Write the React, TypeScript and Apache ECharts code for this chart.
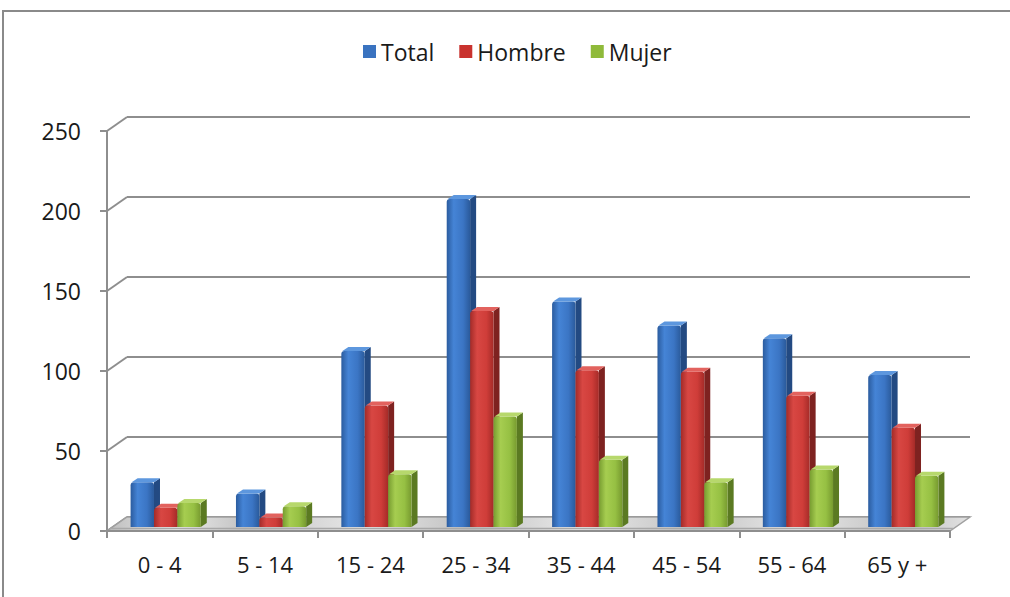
import React, { useEffect, useRef } from "react";
import * as echarts from "echarts";

const categories = ["0 - 4", "5 - 14", "15 - 24", "25 - 34", "35 - 44", "45 - 54", "55 - 64", "65 y +"];
const totalValues = [28, 21, 110, 205, 141, 126, 118, 95];
const hombreValues = [12, 6, 76, 135, 98, 97, 82, 62];
const mujerValues = [15, 13, 33, 69, 42, 28, 36, 32];
const yTicks = [0, 50, 100, 150, 200, 250];
const seriesNames = ["Total", "Hombre", "Mujer"];

const WALL_DX = 20;
const WALL_DY = -14;
const BAR_DX = 6;
const BAR_DY = -4;
const FONT = "Open Sans";
const TEXT = "#1a1a1a";
const LINE = "#8e8e8e";

const palettes = [
  { legend: "#3a73c0", front: ["#2b5c9f", "#4584d6", "#3b75c4", "#2a5a9b"], side: "#234a82", top: "#5d97de" },
  { legend: "#c9322e", front: ["#a32b28", "#d84743", "#cf3d39", "#a52b28"], side: "#7e2220", top: "#e2625e" },
  { legend: "#8fba3a", front: ["#779c30", "#a6cd50", "#96c043", "#779a2f"], side: "#5b7a22", top: "#b7d86c" },
];

export default function App() {
  const ref = useRef<HTMLDivElement>(null);
  useEffect(() => {
    if (!ref.current) return;
    const chart = echarts.init(ref.current, undefined, { renderer: "svg" });
    const seriesData = [totalValues, hombreValues, mujerValues];

    const barSeries = seriesData.map((vals, si) => {
      const p = palettes[si];
      return {
        type: "custom",
        name: seriesNames[si],
        xAxisIndex: 0,
        yAxisIndex: 0,
        z: 10 + si,
        itemStyle: { color: p.legend },
        data: vals.map((v, i) => [i, v]),
        encode: { x: 0, y: 1 },
        renderItem: (params: any, api: any) => {
          const cat = api.value(0);
          const v = api.value(1);
          const base = api.coord([cat, 0]);
          const top = api.coord([cat, v]);
          const bandW = api.size([1, 0])[0];
          const barW = bandW * 0.222;
          const x0 = base[0] + BAR_DX - 1.5 * barW + si * barW;
          const yb = base[1] + BAR_DY;
          const yt = top[1] + BAR_DY;
          const h = yb - yt;
          const d = 6;
          const dy = -4;
          return {
            type: "group",
            children: [
              {
                type: "polygon",
                shape: { points: [[x0 + barW, yt], [x0 + barW + d, yt + dy], [x0 + barW + d, yb + dy], [x0 + barW, yb]] },
                style: { fill: p.side },
              },
              {
                type: "rect",
                shape: { x: x0, y: yt, width: barW, height: h, r: [3, 3, 0, 0] },
                style: {
                  fill: new echarts.graphic.LinearGradient(0, 0, 1, 0, [
                    { offset: 0, color: p.front[0] },
                    { offset: 0.3, color: p.front[1] },
                    { offset: 0.7, color: p.front[2] },
                    { offset: 1, color: p.front[3] },
                  ]),
                },
              },
              {
                type: "polygon",
                shape: { points: [[x0 + 1, yt], [x0 + d + 1, yt + dy], [x0 + barW + d, yt + dy], [x0 + barW, yt]] },
                style: { fill: p.top },
              },
            ],
          };
        },
      };
    });

    const option: any = {
      animation: false,
      backgroundColor: "#ffffff",
      textStyle: { fontFamily: FONT },
      legend: {
        data: seriesNames,
        left: 358,
        top: 35,
        icon: "rect",
        itemWidth: 13,
        itemHeight: 13,
        itemGap: 25,
        textStyle: { fontFamily: FONT, fontSize: 23, color: TEXT },
      },
      graphic: [
        {
          type: "rect",
          shape: { x: 3, y: 11, width: 1040, height: 620 },
          style: { fill: "none", stroke: "#8a8a8a", lineWidth: 2 },
          silent: true,
          z: 0,
        },
      ],
      grid: [
        { left: 107, top: 131, width: 843, height: 400 },
        { left: 107 + WALL_DX, top: 131 + WALL_DY, width: 843, height: 400 },
      ],
      xAxis: [
        {
          type: "category",
          gridIndex: 0,
          data: categories,
          boundaryGap: true,
          axisLine: { show: true, lineStyle: { color: LINE, width: 2 } },
          axisTick: { show: true, length: 7, lineStyle: { color: LINE, width: 2 } },
          axisLabel: { fontFamily: FONT, fontSize: 22, color: TEXT, margin: 22 },
          splitLine: { show: false },
          z: 20,
        },
        {
          type: "category",
          gridIndex: 1,
          data: categories,
          axisLine: { show: false },
          axisTick: { show: false },
          axisLabel: { show: false },
          splitLine: { show: false },
        },
      ],
      yAxis: [
        {
          type: "value",
          gridIndex: 0,
          min: 0,
          max: 250,
          interval: 50,
          axisLine: { show: true, lineStyle: { color: LINE, width: 2 } },
          axisTick: { show: true, length: 7, lineStyle: { color: LINE, width: 2 } },
          axisLabel: { fontFamily: FONT, fontSize: 23, color: TEXT, margin: 26 },
          splitLine: { show: false },
        },
        {
          type: "value",
          gridIndex: 1,
          min: 0,
          max: 250,
          interval: 50,
          axisLine: { show: false },
          axisTick: { show: false },
          axisLabel: { show: false },
          splitLine: { show: true, lineStyle: { color: LINE, width: 2 } },
        },
      ],
      series: [
        {
          type: "custom",
          name: "walls",
          xAxisIndex: 0,
          yAxisIndex: 0,
          z: 2,
          silent: true,
          data: yTicks.map((v) => [0, v]),
          encode: { x: 0, y: 1 },
          renderItem: (params: any, api: any) => {
            const y = api.coord([0, api.value(1)])[1];
            const x = params.coordSys.x;
            return {
              type: "line",
              shape: { x1: x, y1: y, x2: x + WALL_DX, y2: y + WALL_DY },
              style: { stroke: LINE, lineWidth: 2 },
            };
          },
        },
        {
          type: "custom",
          name: "floor",
          xAxisIndex: 0,
          yAxisIndex: 0,
          z: 3,
          silent: true,
          data: [[0, 0]],
          encode: { x: 0, y: 1 },
          renderItem: (params: any, api: any) => {
            const cs = params.coordSys;
            const yb = api.coord([0, 0])[1];
            const xl = cs.x;
            const xr = cs.x + cs.width;
            return {
              type: "group",
              children: [
                {
                  type: "polygon",
                  shape: { points: [[xl, yb], [xr, yb], [xr + WALL_DX, yb + WALL_DY], [xl + WALL_DX, yb + WALL_DY]] },
                  style: {
                    fill: new echarts.graphic.LinearGradient(0, 0, 1, 0, [
                      { offset: 0, color: "#bdbdbd" },
                      { offset: 0.08, color: "#ececec" },
                      { offset: 0.16, color: "#c2c2c2" },
                      { offset: 0.3, color: "#e8e8e8" },
                      { offset: 0.42, color: "#c0c0c0" },
                      { offset: 0.55, color: "#eaeaea" },
                      { offset: 0.68, color: "#c2c2c2" },
                      { offset: 0.8, color: "#e9e9e9" },
                      { offset: 0.92, color: "#c0c0c0" },
                      { offset: 1, color: "#e2e2e2" },
                    ]),
                    stroke: "#a0a0a0",
                    lineWidth: 1.5,
                  },
                },
                {
                  type: "line",
                  shape: { x1: xl + 3, y1: yb - 2.5, x2: xr + 3, y2: yb - 2.5 },
                  style: { stroke: "#a8a8a8", lineWidth: 1.5 },
                },
              ],
            };
          },
        },
        ...barSeries,
      ],
    };
    chart.setOption(option);
    return () => chart.dispose();
  }, []);
  return (
    <div
      ref={ref}
      style={{ position: "fixed", left: 0, top: 0, width: 1010, height: 597 }}
    />
  );
}
